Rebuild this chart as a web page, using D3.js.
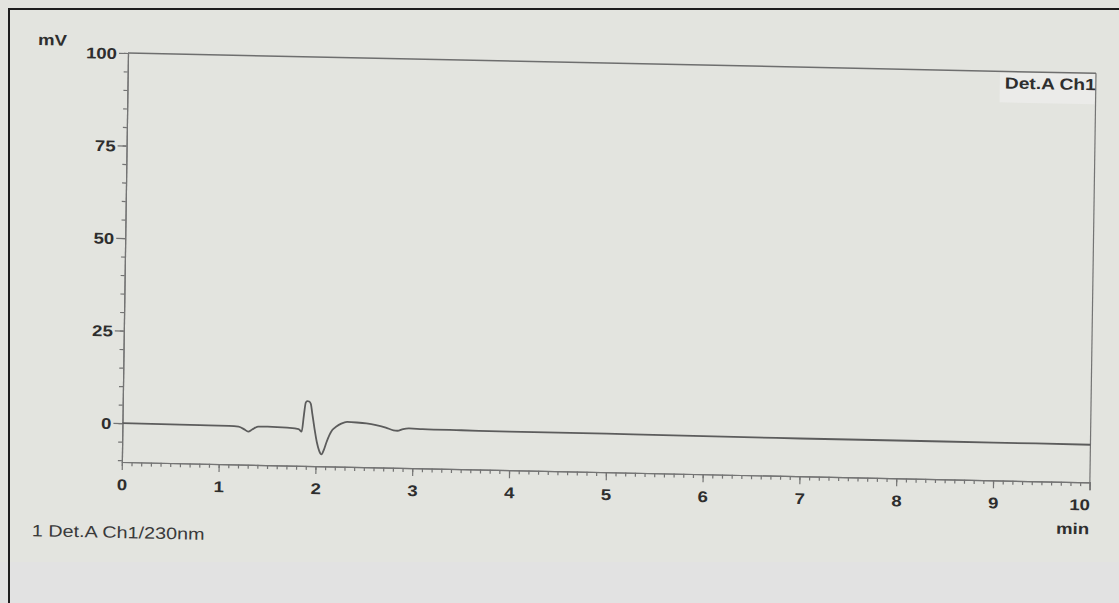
<!DOCTYPE html>
<html>
<head>
<meta charset="utf-8">
<script src="https://cdn.jsdelivr.net/npm/d3@7"></script>
<style>
  html, body { margin: 0; padding: 0; background: #e3e4df; }
  svg { display: block; }
  text { font-family: "Liberation Sans", Arial, sans-serif; }
</style>
</head>
<body>
<svg id="chart" width="1119" height="603"></svg>
<script>
// Detector trace, Det.A Ch1 (230 nm): retention time (min) and signal (mV)
const timeMin = [
  0.00, 0.40, 0.80, 1.10, 1.20, 1.26, 1.30, 1.34, 1.40, 1.50, 1.70, 1.82,
  1.852, 1.872, 1.890, 1.905, 1.925, 1.942, 1.960, 1.985, 2.010, 2.035, 2.060,
  2.085, 2.110, 2.140, 2.170, 2.210, 2.260, 2.320, 2.420, 2.520, 2.620, 2.720,
  2.800, 2.840, 2.900, 2.960, 3.100, 3.500, 4.000, 5.000, 6.000, 7.000, 8.000,
  9.000, 10.000
];
const signalMV = [
  0.0, -0.05, -0.1, -0.15, -0.3, -1.0, -1.6, -1.0, -0.2, -0.1, -0.3, -0.6,
  -1.3, 3.0, 6.6, 7.0, 6.9, 6.3, 3.5, -0.5, -4.0, -6.3, -7.3,
  -6.0, -4.0, -2.0, -0.6, 0.3, 1.1, 1.6, 1.5, 1.3, 0.9, 0.3,
  -0.4, -0.5, 0.0, 0.2, 0.1, 0.0, -0.1, -0.1, -0.2, -0.3, -0.3,
  -0.3, -0.35
];

// Axis ticks
const xTicks = [0, 1, 2, 3, 4, 5, 6, 7, 8, 9, 10];
const xMinorTicks = d3.range(0, 101).map(i => i / 10);
const yTicks = [0, 25, 50, 75, 100];
const yMinorTicks = d3.range(-10, 101, 5);

// Text
const yUnit = "mV";
const xUnit = "min";
const channelLabel = "Det.A Ch1";
const traceLegend = "1 Det.A Ch1/230nm";

const W = 968, H = 409;
const stretch = 1.2;

const svg = d3.select("#chart");

// paper
svg.append("rect").attr("x", 0).attr("y", 0).attr("width", 1119).attr("height", 603).attr("fill", "#e3e4df");
svg.append("rect").attr("x", 0).attr("y", 562).attr("width", 1119).attr("height", 41).attr("fill", "#e2e2e2");
svg.append("rect").attr("x", 9).attr("y", 9).attr("width", 1130).attr("height", 620)
  .attr("fill", "none").attr("stroke", "#1e1e1e").attr("stroke-width", 2);

// plot frame, slightly sheared the way the printed sheet lies
const g = svg.append("g").attr("transform", "matrix(1,0.021,-0.015,1,128,53)");

const x = d3.scaleLinear().domain([0, 10]).range([0, W]);
const y = d3.scaleLinear().domain([-10.5, 100]).range([H, 0]);

// label box behind channel name
g.append("rect").attr("x", W - 96).attr("y", 1).attr("width", 95).attr("height", 30).attr("fill", "#ebebe9");

const axisColor = "#747474";

// y axis: minor then major ticks
const yMinor = g.append("g").call(d3.axisLeft(y).tickValues(yMinorTicks).tickSize(4).tickSizeOuter(0).tickFormat(""));
const yMajor = g.append("g").call(d3.axisLeft(y).tickValues(yTicks).tickSize(9).tickSizeOuter(0));
yMajor.selectAll("text")
  .attr("x", -11 / stretch).attr("dy", "0.36em")
  .attr("transform", `scale(${stretch},1)`)
  .attr("font-size", 15.5).attr("font-weight", "bold").attr("fill", "#2e2e2e");

// x axis: minor then major ticks
const xMinor = g.append("g").attr("transform", `translate(0,${H})`)
  .call(d3.axisBottom(x).tickValues(xMinorTicks).tickSize(4).tickSizeOuter(0).tickFormat(""));
const xMajor = g.append("g").attr("transform", `translate(0,${H})`)
  .call(d3.axisBottom(x).tickValues(xTicks).tickSize(8).tickSizeOuter(0).tickFormat(d3.format("d")));
xMajor.selectAll("text")
  .attr("y", 28).attr("dy", null)
  .attr("text-anchor", d => d === 10 ? "end" : "middle")
  .attr("transform", `scale(${stretch},1)`)
  .attr("font-size", 15.5).attr("font-weight", "bold").attr("fill", "#2e2e2e");

[yMinor, yMajor, xMinor, xMajor].forEach(a => {
  a.selectAll("path, line").attr("stroke", axisColor).attr("stroke-width", 1.2);
});

// top and right edges of the frame
g.append("line").attr("x1", 0).attr("y1", y(100)).attr("x2", W).attr("y2", y(100))
  .attr("stroke", "#6e6e6e").attr("stroke-width", 1.5);
g.append("line").attr("x1", W).attr("y1", y(100)).attr("x2", W).attr("y2", H + 8)
  .attr("stroke", axisColor).attr("stroke-width", 1.2);

// trace
const line = d3.line().x((d, i) => x(timeMin[i])).y(d => y(d)).curve(d3.curveMonotoneX);
g.append("path").datum(signalMV).attr("d", line)
  .attr("fill", "none").attr("stroke", "#5c5c5c").attr("stroke-width", 1.8).attr("stroke-linejoin", "round");

// labels
function label(txt, u, v, opts) {
  g.append("text")
    .attr("transform", `translate(${u},${v}) scale(${stretch},1)`)
    .attr("text-anchor", opts.anchor || "start")
    .attr("font-size", opts.size)
    .attr("font-weight", opts.weight || "normal")
    .attr("fill", opts.fill || "#2e2e2e")
    .text(txt);
}
label(yUnit, -90, -6, { size: 15.5, weight: "bold" });
label(channelLabel, W, 17, { size: 16, weight: "bold", anchor: "end" });
label(xUnit, W, 461, { size: 15.5, weight: "bold", anchor: "end" });
label(traceLegend, -89, 485, { size: 16.5, fill: "#3a3a3a" });
</script>
</body>
</html>
